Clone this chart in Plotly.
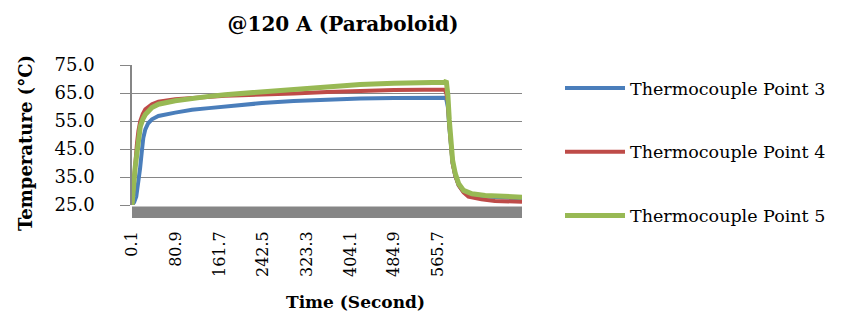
import plotly.graph_objects as go

# ---- data ----
t_blue = [0.1, 4, 8, 12, 15, 18.6, 21, 24.7, 30, 37, 49, 80, 111, 142, 172, 203, 240, 299, 361, 422, 484, 540, 578,
          581, 584, 586.6, 589.7, 592.7, 597.7, 604, 613, 628.6, 653, 690, 721]
v_blue = [25, 26, 28, 32.8, 38, 44.8, 49, 52, 54.2, 55.6, 56.8, 58, 59, 59.6, 60.2, 60.8, 61.4, 62.1, 62.7, 63.0, 63.2, 63.2, 63.3,
          62.8, 60, 53, 45.5, 40, 35.5, 32, 29.7, 28.6, 28, 27.6, 27.4]

t_red = [0.1, 2, 4, 6, 9.3, 12, 15.4, 20, 24.7, 37, 49, 80, 111, 142, 172, 203, 240, 299, 361, 422, 484, 540, 578,
         581, 584, 586.6, 589.7, 592.7, 597.7, 604, 613, 622, 646, 671, 721]
v_red = [25, 30, 37, 42, 47, 51.5, 55, 57.5, 59.2, 61, 61.9, 62.8, 63.3, 63.8, 64.0, 64.2, 64.3, 64.8, 65.4, 65.9, 66.1, 66.2, 66.2,
         65, 62, 54, 46, 40, 35.5, 32, 29.5, 28, 27, 26.4, 26.2]

t_green = [0.1, 2, 4, 6, 9.3, 12, 15.4, 20, 24.7, 37, 49, 80, 111, 142, 172, 203, 240, 299, 361, 422, 484, 540, 578,
           581, 584, 586.6, 589.7, 592.7, 597.7, 604, 613, 628.6, 653, 690, 721]
v_green = [25, 28, 34, 38.5, 43.5, 49, 53, 55.6, 57.3, 59.8, 61, 62.2, 63.1, 63.8, 64.4, 64.9, 65.5, 66.4, 67.4, 68.0, 68.5, 68.7, 68.8,
           69.4, 64.2, 55.4, 47, 41, 36.2, 32.6, 30.2, 29, 28.4, 28, 27.8]

x_ticks = [0.1, 80.9, 161.7, 242.5, 323.3, 404.1, 484.9, 565.7]
x_tick_labels = ["0.1", "80.9", "161.7", "242.5", "323.3", "404.1", "484.9", "565.7"]
y_ticks = [25, 35, 45, 55, 65, 75]

series_names = ["Thermocouple Point 3", "Thermocouple Point 4", "Thermocouple Point 5"]
colors = ["#4A7EBB", "#BE4B48", "#98B954"]

GRID = "#868686"
SERIF = "DejaVu Serif"

fig = go.Figure()
for name, tx, vy, c, w, g in [
    (series_names[0], t_blue, v_blue, colors[0], 4, "a"),
    (series_names[1], t_red, v_red, colors[1], 4, "b"),
    (series_names[2], t_green, v_green, colors[2], 5, "c"),
]:
    fig.add_trace(go.Scatter(x=tx, y=vy, mode="lines", name=name, legendgroup=g,
                             line=dict(color=c, width=w)))

fig.update_layout(
    width=841, height=317,
    margin=dict(l=132, r=319, t=65, b=112),
    paper_bgcolor="white", plot_bgcolor="white",
    font=dict(family=SERIF, color="black"),
    title=dict(text="<b>@120 A (Paraboloid)</b>", x=343 / 841, xanchor="center",
               y=1 - 24 / 317, yanchor="middle", yref="container",
               font=dict(family=SERIF, size=20, color="black")),
    legend=dict(xref="container", yref="container", x=560 / 841, y=1 - 70 / 317,
                xanchor="left", yanchor="top", font=dict(family=SERIF, size=17.5, color="black"),
                tracegroupgap=38, bgcolor="rgba(0,0,0,0)", itemwidth=60, maxheight=300),
    showlegend=True,
)

fig.update_xaxes(range=[0.1, 721], tickmode="array", tickvals=x_ticks, ticktext=x_tick_labels,
                 tickangle=-90, showgrid=False, zeroline=False, showline=False, ticks="",
                 automargin=False,
                 ticklabelstandoff=22, tickfont=dict(family=SERIF, size=16, color="black"))
fig.update_yaxes(range=[25, 75], tickmode="array", tickvals=y_ticks, tickformat=".1f",
                 showgrid=True, gridcolor=GRID, gridwidth=1, zeroline=False,
                 showline=True, linecolor=GRID, linewidth=1.5,
                 ticks="outside", ticklen=10, tickcolor=GRID, tickwidth=1, automargin=False,
                 ticklabelstandoff=22, tickfont=dict(family=SERIF, size=18, color="black"))

# grey floor band under the plot area
fig.add_shape(type="rect", xref="x domain", yref="y domain", x0=0, x1=1,
              y0=-(218 - 205) / 140, y1=-(206.5 - 205) / 140,
              fillcolor=GRID, line=dict(width=0), layer="above")

fig.add_annotation(text="<b>Time (Second)</b>", xref="paper", yref="paper",
                   x=(355 - 132) / 390, y=(205 - 302) / 140, xanchor="center", yanchor="middle",
                   showarrow=False, font=dict(family=SERIF, size=17, color="black"))
fig.add_annotation(text="<b>Temperature (°C)</b>", xref="paper", yref="paper",
                   x=(25 - 132) / 390, y=(205 - 143) / 140, xanchor="center", yanchor="middle",
                   textangle=-90, showarrow=False, font=dict(family=SERIF, size=18, color="black"))

fig.write_html("out.html", config={"displayModeBar": False},
               post_script="document.body.style.margin='0';")
